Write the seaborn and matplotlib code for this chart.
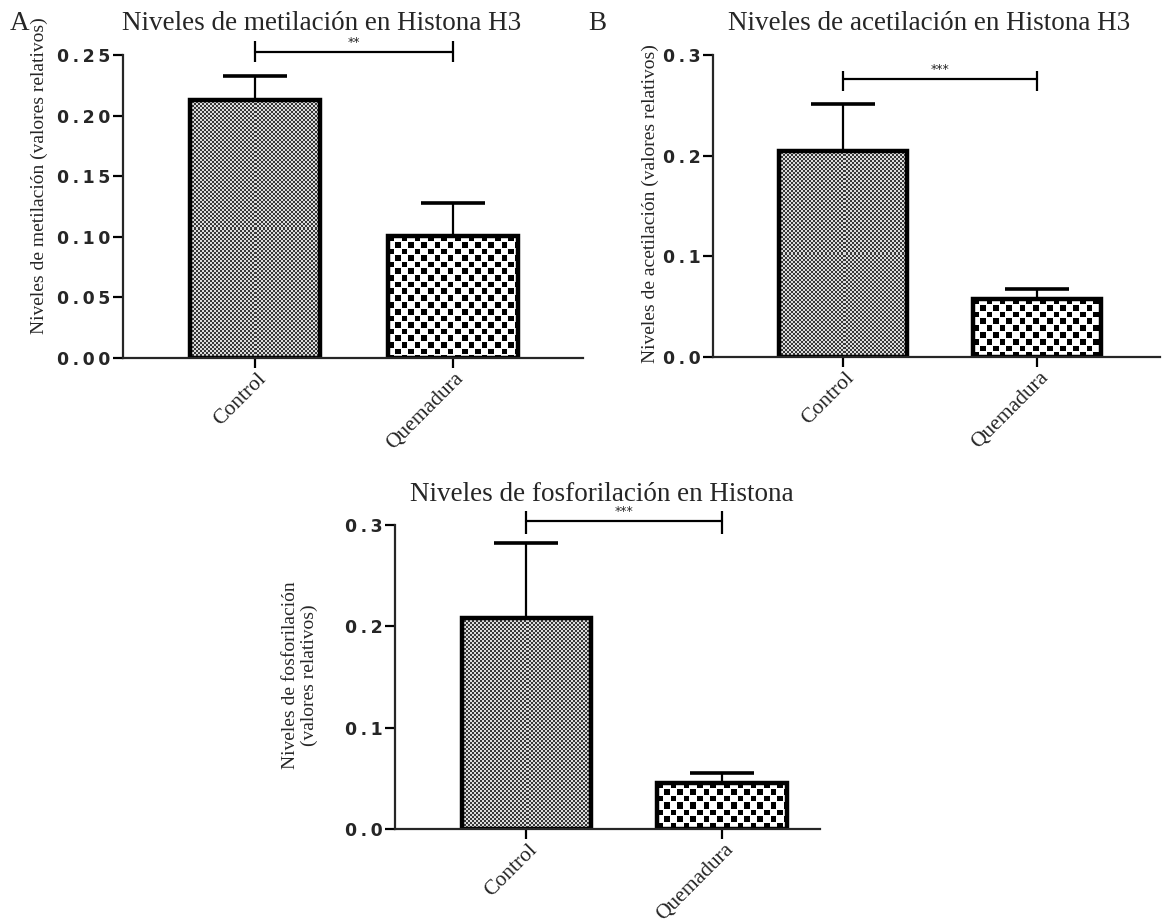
import numpy as np
import seaborn as sns
import matplotlib.pyplot as plt
from matplotlib.ticker import FuncFormatter, MultipleLocator
from matplotlib.transforms import ScaledTranslation

groups = ['Control', 'Quemadura']

metil_mean = [0.213, 0.101]
metil_sem = [0.020, 0.027]

acetil_mean = [0.205, 0.058]
acetil_sem = [0.046, 0.010]

fosfo_mean = [0.208, 0.0455]
fosfo_sem = [0.074, 0.0095]

titles = ['Niveles de metilación en Histona H3',
          'Niveles de acetilación en Histona H3',
          'Niveles de fosforilación en Histona']
ylabels = ['Niveles de metilación (valores relativos)',
           'Niveles de acetilación (valores relativos)',
           'Niveles de fosforilación\n(valores relativos)']
stars = ['**', '***', '***']
letters = ['A', 'B', '']

sns.set_style('ticks')
plt.rcParams['font.family'] = ['Liberation Serif', 'DejaVu Serif']

W, H = 1162, 922


def box(left, right, top, bottom):
    return [left / W, 1 - bottom / H, (right - left) / W, (bottom - top) / H]


layout = [
    dict(rect=box(123, 583, 55, 358), ymax=0.25, step=0.05, dec=2, xright=1.66,
         br=(0.2525, 0.244, 0.2615), title=(122, 24), ylab=(39, 176), letter=(10, 24)),
    dict(rect=box(713, 1160, 55, 357), ymax=0.3, step=0.1, dec=1, xright=1.634,
         br=(0.276, 0.264, 0.284), title=(728, 24), ylab=(650, 204), letter=(588, 24)),
    dict(rect=box(395, 820, 525, 829), ymax=0.3, step=0.1, dec=1, xright=1.5,
         br=(0.304, 0.291, 0.314), title=(410, 494), ylab=(300, 675), letter=(0, 0)),
]
data = [(metil_mean, metil_sem), (acetil_mean, acetil_sem), (fosfo_mean, fosfo_sem)]


def texture(ax, patch, kind):
    x0, y0 = patch.get_x(), patch.get_y()
    w, h = patch.get_width(), patch.get_height()
    (px0, py0), (px1, py1) = ax.transData.transform([(x0, y0), (x0 + w, y0 + h)])
    nx, ny = max(int(round(px1 - px0)), 1), max(int(round(py1 - py0)), 1)
    yy, xx = np.indices((ny, nx))
    if kind == 0:
        img = np.where((xx // 2 + yy // 2) % 2 == 0, 0.22, 0.86)
    else:
        c = 6.6
        i, j = np.floor(xx / c), np.floor(yy / c)
        lx, ly = xx - i * c, yy - j * c
        img = np.ones((ny, nx))
        img[((i + j) % 2 == 0) & (lx < 5.6) & (ly < 5.6)] = 0.0
    im = ax.imshow(img, cmap='gray', vmin=0, vmax=1, extent=(x0, x0 + w, y0, y0 + h),
                   origin='upper', interpolation='nearest', aspect='auto', zorder=0.8)
    im.set_clip_path(patch)


fig = plt.figure(figsize=(11.62, 9.22), dpi=100)
shift = ScaledTranslation(6 / 72, 0, fig.dpi_scale_trans)

for k, (lay, (mean, sem)) in enumerate(zip(layout, data)):
    ax = fig.add_axes(lay['rect'])
    sns.barplot(x=groups, y=mean, ax=ax, width=0.66, color='white', saturation=1,
                edgecolor='black', linewidth=3.2, errorbar=None)
    for p in ax.patches:
        p.set_facecolor('none')
        p.set_zorder(2)
    ax.errorbar([0, 1], mean, yerr=[[0, 0], sem], fmt='none', ecolor='black',
                elinewidth=1.6, capsize=23, capthick=2.6, zorder=1)
    ax.set_xlim(-0.67, lay['xright'])
    ax.set_ylim(0, lay['ymax'])
    ax.yaxis.set_major_locator(MultipleLocator(lay['step']))
    dec = lay['dec']
    ax.yaxis.set_major_formatter(FuncFormatter(lambda v, p, d=dec: '\u2009'.join(f'{v:.{d}f}')))
    for p, kind in zip(ax.patches, [0, 1]):
        texture(ax, p, kind)
    ax.set_xlim(-0.67, lay['xright'])
    ax.set_ylim(0, lay['ymax'])

    sns.despine(ax=ax)
    for s in ['left', 'bottom']:
        ax.spines[s].set_linewidth(1.6)
    ax.tick_params(axis='both', direction='out', length=7, width=1.6, color='black')
    ax.tick_params(axis='y', pad=2)
    for t in ax.get_yticklabels():
        t.set_family('DejaVu Sans')
        t.set_weight('bold')
        t.set_fontsize(12.5)
    ax.set_xticks([0, 1])
    ax.set_xticklabels(groups, rotation=45, ha='right', va='center',
                       rotation_mode='anchor', fontsize=15.5)
    ax.tick_params(axis='x', pad=6)
    for t in ax.get_xticklabels():
        t.set_transform(t.get_transform() + shift)
    ax.set_xlabel('')
    ax.set_ylabel('')

    yl, ylo, yhi = lay['br']
    ax.plot([0, 1], [yl, yl], color='black', lw=1.6, clip_on=False)
    ax.vlines([0, 1], ylo, yhi, color='black', lw=1.6, clip_on=False)
    ax.annotate(stars[k], xy=(0.5, yl), xytext=(0, 7), textcoords='offset points',
                ha='center', va='center', fontsize=9, family='DejaVu Sans',
                annotation_clip=False)

    tx, ty = lay['title']
    fig.text(tx / W, 1 - ty / H, titles[k], ha='left', va='center', fontsize=19.5)
    lx, ly = lay['ylab']
    fig.text(lx / W, 1 - ly / H, ylabels[k], rotation=90, ha='center', va='center',
             fontsize=14, linespacing=1.1)
    if letters[k]:
        ax_, ay_ = lay['letter']
        fig.text(ax_ / W, 1 - ay_ / H, letters[k], ha='left', va='center', fontsize=19.5)

fig.savefig('out.png', dpi=100)
